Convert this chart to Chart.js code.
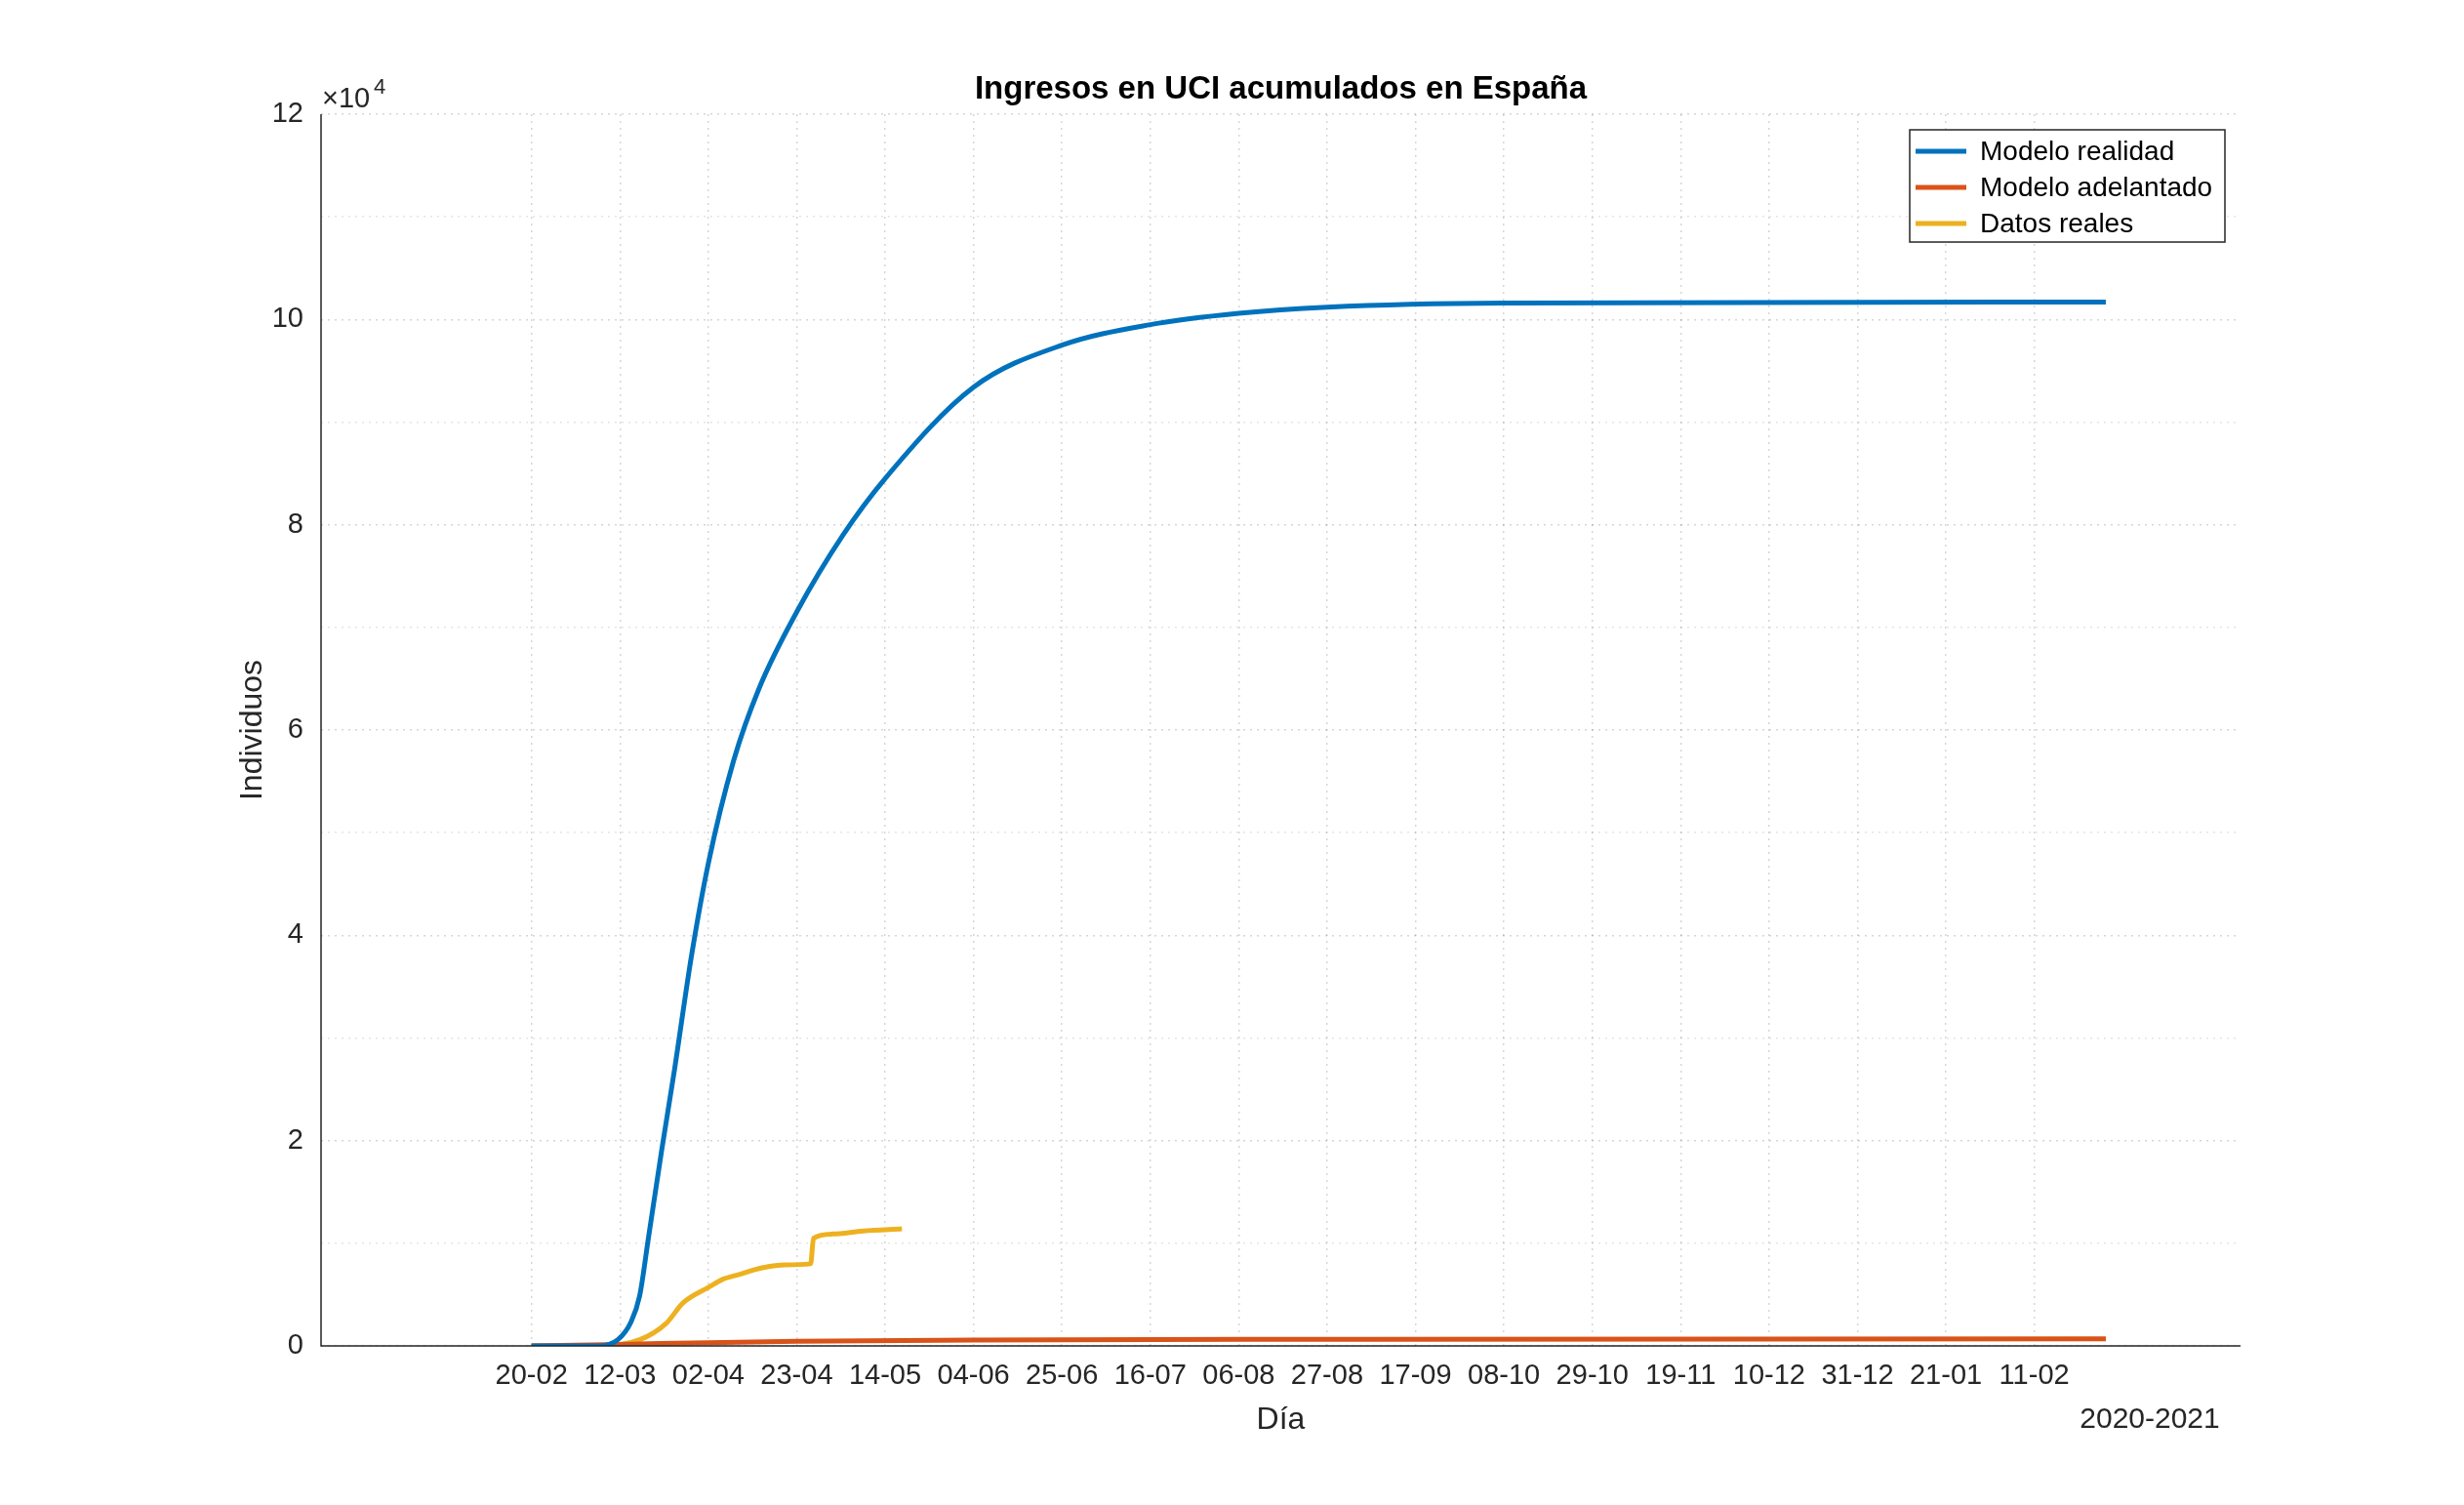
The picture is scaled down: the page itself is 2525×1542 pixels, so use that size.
<!DOCTYPE html>
<html><head><meta charset="utf-8">
<script src="https://cdn.jsdelivr.net/npm/chart.js@4"></script>
<style>html,body{margin:0;background:#fff}canvas{display:block}</style>
</head><body>
<div style="width:2525px;height:1542px"><canvas id="c"></canvas></div>
<script>
// days counted from 20-02-2020
const tickDays = [0, 21, 42, 63, 84, 105, 126, 147, 168, 189, 210, 231, 252, 273, 294, 315, 336, 357];
const tickLabels = ["20-02","12-03","02-04","23-04","14-05","04-06","25-06","16-07","06-08","27-08","17-09","08-10","29-10","19-11","10-12","31-12","21-01","11-02"];

const realDays = [0, 16, 20.5, 23.6, 25.7, 27.8, 30.9, 34, 38, 42, 48, 54, 63, 74, 84, 105, 126, 147, 168, 189, 231, 374];
const realVals = [0, 0, 600, 2300, 4900, 10600, 19000, 27000, 38000, 47000, 57000, 64000, 71500, 79000, 84500, 93400, 97500, 99500, 100600, 101200, 101600, 101700];

const advDays = [0, 21, 42, 63, 105, 200, 374];
const advVals = [0, 150, 320, 450, 580, 650, 680];

const dataDays = [0, 16.3, 25.7, 32, 36, 42, 45.5, 49.7, 52.8, 56, 60, 66.3, 67, 71.5, 78.8, 88];
const dataVals = [0, 0, 600, 2200, 4200, 5700, 6500, 7000, 7400, 7700, 7900, 8000, 10500, 10900, 11200, 11400];

const pts = (d, v) => d.map((x, i) => ({ x, y: v[i] }));
const FONT = "'Liberation Sans', Arial, sans-serif";

const extras = {
  id: "extras",
  afterDraw(chart) {
    const { ctx, chartArea: a } = chart;
    ctx.save();
    ctx.fillStyle = "#000";
    ctx.textAlign = "center";
    ctx.textBaseline = "middle";
    ctx.font = "bold 33px " + FONT;
    ctx.fillText("Ingresos en UCI acumulados en España", (a.left + a.right) / 2, 92);
    ctx.fillStyle = "#262626";
    ctx.font = "32px " + FONT;
    ctx.fillText("Día", (a.left + a.right) / 2, 1455);
    ctx.font = "30px " + FONT;
    ctx.fillText("2020-2021", 2203, 1455);
    ctx.save();
    ctx.translate(259, (a.top + a.bottom) / 2);
    ctx.rotate(-Math.PI / 2);
    ctx.font = "32px " + FONT;
    ctx.fillText("Individuos", 0, 0);
    ctx.restore();
    ctx.textAlign = "left";
    ctx.font = "29px " + FONT;
    ctx.fillText("×10", 330, 102);
    ctx.font = "22px " + FONT;
    ctx.fillText("4", 383, 90);
    // axis lines
    ctx.strokeStyle = "#262626";
    ctx.lineWidth = 1.5;
    ctx.beginPath();
    ctx.moveTo(a.left, a.top); ctx.lineTo(a.left, a.bottom); ctx.lineTo(a.right, a.bottom);
    ctx.stroke();
    // legend
    const lx = 1957, ly = 133, lw = 323, lh = 115;
    ctx.fillStyle = "#fff";
    ctx.fillRect(lx, ly, lw, lh);
    ctx.lineWidth = 1.5;
    ctx.strokeStyle = "#262626";
    ctx.strokeRect(lx, ly, lw, lh);
    chart.data.datasets.forEach((ds, i) => {
      const y = ly + 22 + i * 37;
      ctx.strokeStyle = ds.borderColor;
      ctx.lineWidth = 5;
      ctx.beginPath(); ctx.moveTo(lx + 6, y); ctx.lineTo(lx + 58, y); ctx.stroke();
      ctx.fillStyle = "#000";
      ctx.font = "28px " + FONT;
      ctx.fillText(ds.label, lx + 72, y + 1);
    });
    ctx.restore();
  }
};

new Chart(document.getElementById("c"), {
  type: "line",
  data: {
    datasets: [
      { label: "Modelo realidad", data: pts(realDays, realVals), borderColor: "#0072BD" },
      { label: "Modelo adelantado", data: pts(advDays, advVals), borderColor: "#D95319" },
      { label: "Datos reales", data: pts(dataDays, dataVals), borderColor: "#EDB120" }
    ]
  },
  options: {
    responsive: true,
    maintainAspectRatio: false,
    animation: false,
    layout: { padding: { top: 117, right: 229, left: 0, bottom: 0 } },
    elements: {
      point: { radius: 0 },
      line: { borderWidth: 5, cubicInterpolationMode: "monotone", fill: false }
    },
    plugins: { legend: { display: false }, tooltip: { enabled: false } },
    scales: {
      x: {
        type: "linear",
        min: -50, max: 406,
        afterFit: (s) => { s.height = 163; },
        afterBuildTicks: (s) => { s.ticks = tickDays.map((v) => ({ value: v })); },
        ticks: {
          padding: 14,
          maxRotation: 0,
          autoSkip: false,
          color: "#262626",
          font: { family: FONT, size: 29 },
          callback: (v) => tickLabels[tickDays.indexOf(v)] ?? ""
        },
        grid: { color: "rgba(0,0,0,0.16)", drawTicks: false, lineWidth: 1.5 },
        border: { display: false, dash: [2, 5] }
      },
      y: {
        min: 0, max: 120000,
        afterFit: (s) => { s.width = 329; },
        ticks: {
          stepSize: 10000,
          padding: 18,
          color: "#262626",
          font: { family: FONT, size: 29 },
          callback: (v) => (v % 20000 === 0 ? String(v / 10000) : "")
        },
        grid: { color: (c) => (c.tick.value % 20000 === 0 ? "rgba(0,0,0,0.16)" : "rgba(0,0,0,0.1)"), drawTicks: false, lineWidth: 1.5 },
        border: { display: false, dash: [2, 5] }
      }
    }
  },
  plugins: [extras]
});
</script>
</body></html>
